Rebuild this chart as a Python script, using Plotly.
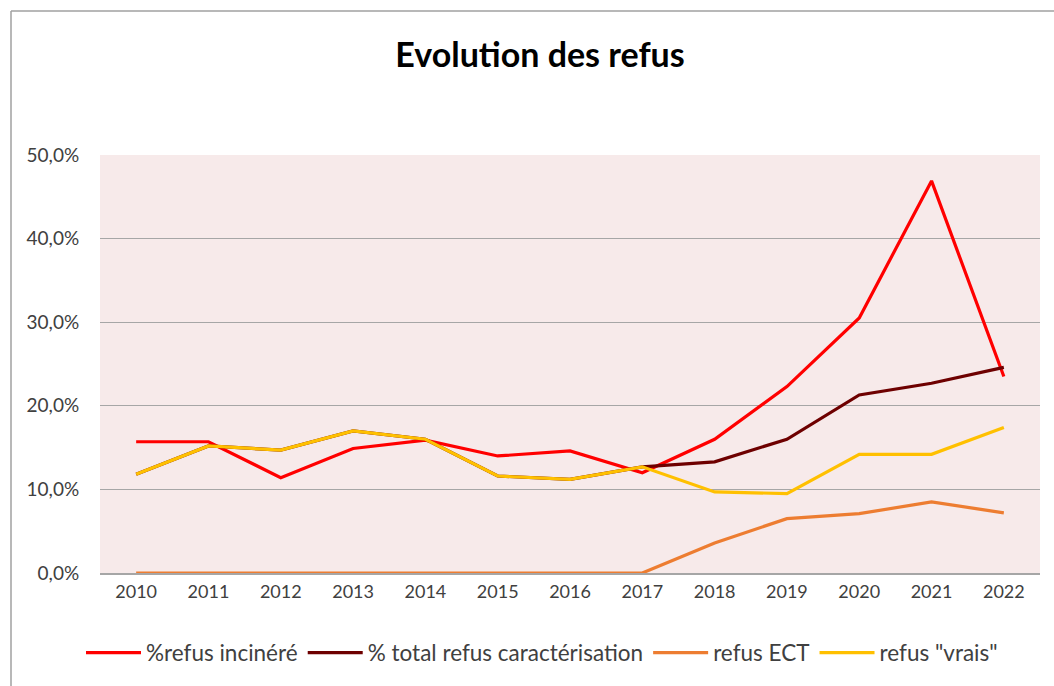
import plotly.graph_objects as go

years = ["2010", "2011", "2012", "2013", "2014", "2015", "2016", "2017", "2018", "2019", "2020", "2021", "2022"]
refus_incinere = [15.7, 15.7, 11.4, 14.9, 15.9, 14.0, 14.6, 12.0, 16.0, 22.3, 30.5, 46.9, 23.5]
total_caracterisation = [11.8, 15.2, 14.7, 17.0, 16.0, 11.6, 11.2, 12.7, 13.3, 16.0, 21.3, 22.7, 24.6]
refus_ect = [0.0, 0.0, 0.0, 0.0, 0.0, 0.0, 0.0, 0.0, 3.6, 6.5, 7.1, 8.5, 7.2]
refus_vrais = [11.8, 15.2, 14.7, 17.0, 16.0, 11.6, 11.2, 12.7, 9.7, 9.5, 14.2, 14.2, 17.4]

names = ["%refus incinéré", "% total refus caractérisation", "refus ECT", 'refus "vrais"']
colors = ["#FF0000", "#6E0000", "#ED7D31", "#FFC000"]
series = [refus_incinere, total_caracterisation, refus_ect, refus_vrais]

fig = go.Figure()
for n, c, s in zip(names, colors, series):
    fig.add_trace(go.Scatter(x=years, y=s, name=n, mode="lines",
                             line=dict(color=c, width=3.2)))

font_family = "Lato, 'Open Sans', sans-serif"
W, H = 1054, 686
L, R, T, B = 100, 14, 155, 113
pw, ph = W - L - R, H - T - B

fig.update_layout(
    width=W, height=H,
    margin=dict(l=L, r=R, t=T, b=B, autoexpand=False),
    paper_bgcolor="white",
    plot_bgcolor="#F7EAEA",
    separators=", ",
    font=dict(family=font_family, size=18, color="#404040"),
    title=dict(text="<b>Evolution des refus</b>", x=540 / W, xref="container", xanchor="center",
               y=1 - 55 / H, yref="container", yanchor="middle",
               font=dict(family=font_family, size=34, color="black")),
    showlegend=True,
    legend=dict(orientation="h", x=(542 - L) / pw, xanchor="center", y=(573 - 653) / ph,
                yanchor="middle", font=dict(size=22.5, color="#404040"), itemwidth=55,
                traceorder="normal"),
    xaxis=dict(type="category", range=[-0.5, 12.5], showgrid=False, showline=True,
               linecolor="#A6A6A6", linewidth=1.5,
               ticks="outside", ticklen=2, tickcolor="rgba(0,0,0,0)", tickfont=dict(size=18),
               fixedrange=True),
    yaxis=dict(range=[0, 50], dtick=10, tickformat=".1f", ticksuffix="%", showgrid=True,
               gridcolor="#A6A6A6", gridwidth=1.2, zeroline=False, showline=False,
               ticks="outside", ticklen=16, tickcolor="rgba(0,0,0,0)", tickfont=dict(size=19),
               fixedrange=True),
)

# outer chart frame (cropped on right/bottom in the reference)
fig.add_shape(type="line", xref="paper", yref="paper",
              x0=(11 - L) / pw, x1=(11 - L) / pw, y0=1 + (T - 11) / ph, y1=-(H - T - ph + 5) / ph,
              line=dict(color="#A0A0A0", width=1.5))
fig.add_shape(type="line", xref="paper", yref="paper",
              x0=(11 - L) / pw, x1=(W + 5 - L) / pw, y0=1 + (T - 11) / ph, y1=1 + (T - 11) / ph,
              line=dict(color="#A0A0A0", width=1.5))

fig.write_html("out.html", config={"displayModeBar": False},
               post_script="document.body.style.margin='0';")
